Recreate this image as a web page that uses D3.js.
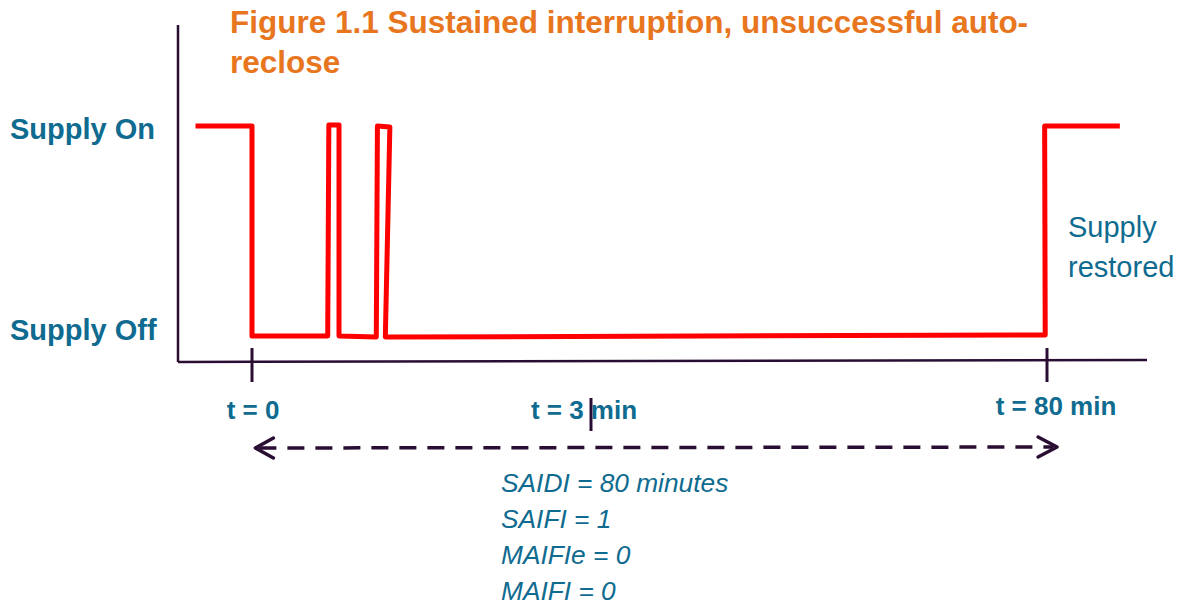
<!DOCTYPE html>
<html>
<head>
<meta charset="utf-8">
<script src="https://cdn.jsdelivr.net/npm/d3@7"></script>
<style>
  html, body { margin: 0; padding: 0; background: #fff; }
  svg { display: block; }
  text { font-family: "Liberation Sans", Arial, sans-serif; }
</style>
</head>
<body>
<svg id="chart" width="1184" height="607"></svg>
<script>
// ---- data ----
const titleLines = ["Figure 1.1 Sustained interruption, unsuccessful auto-", "reclose"];
const stateLabels = ["Supply Off", "Supply On"];            // y = 0, y = 1
const tickTimes = [0, 3, 80];                               // minutes
const tickLabels = ["t = 0", "t = 3 min", "t = 80 min"];
// supply trace: [time (min), state (0 off, 1 on)]
const traceTime  = [-0.5, 0, 0, 0.67, 0.68, 0.77, 0.77, 1.10, 1.11, 1.22, 1.18, 79.7, 79.6, 92.3];
const traceState = [1, 1, 0, 0, 1.005, 1.005, 0, -0.005, 1, 0.995, -0.005, 0.005, 1, 1];
const arrowSpan = [0.03, 81.7];
const restoredLabel = ["Supply", "restored"];
const indexLines = ["SAIDI = 80 minutes", "SAIFI = 1", "MAIFIe = 0", "MAIFI = 0"];

// ---- styles ----
const teal = "#0f6b8f";
const orange = "#e8761e";
const axisCol = "#2a0d33";
const red = "#ff0000";

const svg = d3.select("#chart");

// schematic time scale (piecewise: compressed after 3 min)
const x = d3.scaleLinear().domain([0, 3, 80]).range([252, 591, 1047]);
const y = d3.scaleLinear().domain([0, 1]).range([336, 126]);

// title
svg.append("g").selectAll("text").data(titleLines).join("text")
  .attr("x", 230).attr("y", (d, i) => 33 + i * 40)
  .attr("fill", orange).attr("font-weight", "bold").attr("font-size", 31.5)
  .text(d => d);

// axes
const axisG = svg.append("g").attr("stroke", axisCol).attr("fill", "none");
axisG.append("line").attr("x1", 178).attr("x2", 178).attr("y1", 25).attr("y2", 362).attr("stroke-width", 2.5);
axisG.append("line").attr("x1", 178).attr("x2", 1147).attr("y1", 362).attr("y2", 360).attr("stroke-width", 2.5);
// ticks on axis at t=0 and t=80
axisG.selectAll("line.tk").data([tickTimes[0], tickTimes[2]]).join("line").attr("class", "tk")
  .attr("x1", d => x(d)).attr("x2", d => x(d)).attr("y1", 348).attr("y2", 382).attr("stroke-width", 3);
// stray tick at t=3 (below axis, across label)
axisG.append("line").attr("x1", x(tickTimes[1])).attr("x2", x(tickTimes[1]))
  .attr("y1", 398).attr("y2", 431).attr("stroke-width", 3);

// state labels
svg.append("g").selectAll("text").data(stateLabels).join("text")
  .attr("x", 10).attr("y", (d, i) => y(i) + (i ? 13 : 4))
  .attr("fill", teal).attr("font-weight", "bold").attr("font-size", 29)
  .text(d => d);

// tick labels
svg.append("g").selectAll("text").data(tickLabels).join("text")
  .attr("x", (d, i) => x(tickTimes[i]) + [1, -7, 9][i])
  .attr("y", (d, i) => i === 2 ? 415 : 419)
  .attr("text-anchor", "middle")
  .attr("fill", teal).attr("font-weight", "bold").attr("font-size", 26)
  .text(d => d);

// trace
const traceData = traceTime.map((t, i) => [t, traceState[i]]);
svg.append("path").datum(traceData)
  .attr("d", d3.line().x(d => x(d[0])).y(d => y(d[1])))
  .attr("fill", "none").attr("stroke", red).attr("stroke-width", 5)
  .attr("stroke-linejoin", "round");

// restored label
svg.append("g").selectAll("text").data(restoredLabel).join("text")
  .attr("x", 1068).attr("y", (d, i) => 237 + i * 40)
  .attr("fill", teal).attr("font-size", 29)
  .text(d => d);

// dashed double arrow
const ay = 448;
const arrowG = svg.append("g").attr("stroke", axisCol).attr("fill", "none").attr("stroke-width", 3.5);
arrowG.append("line")
  .attr("x1", x(arrowSpan[0]) + 4).attr("x2", x(arrowSpan[1]) - 4)
  .attr("y1", ay).attr("y2", ay - 1)
  .attr("stroke-dasharray", "17,11");
arrowG.append("path")
  .attr("d", `M${x(arrowSpan[0]) + 18},${ay - 10} L${x(arrowSpan[0])},${ay} L${x(arrowSpan[0]) + 18},${ay + 10}`)
  .attr("stroke-linejoin", "round").attr("stroke-linecap", "round");
arrowG.append("path")
  .attr("d", `M${x(arrowSpan[1]) - 19},${ay - 11} L${x(arrowSpan[1])},${ay - 1} L${x(arrowSpan[1]) - 19},${ay + 9}`)
  .attr("stroke-linejoin", "round").attr("stroke-linecap", "round");

// reliability index text
svg.append("g").selectAll("text").data(indexLines).join("text")
  .attr("x", 501).attr("y", (d, i) => 492 + i * 36)
  .attr("fill", teal).attr("font-style", "italic").attr("font-size", 26.3)
  .text(d => d);
</script>
</body>
</html>
